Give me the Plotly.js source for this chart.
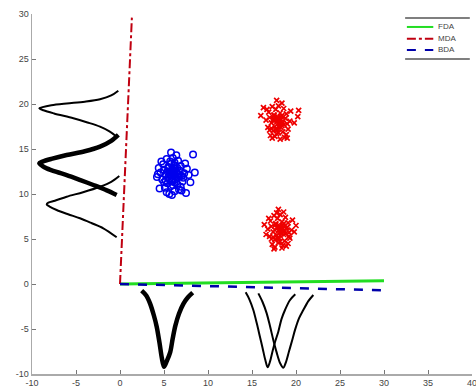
<!DOCTYPE html>
<html><head><meta charset="utf-8">
<script src="https://cdn.plot.ly/plotly-3.0.1.min.js"></script>
<style>html,body{margin:0;padding:0;background:#fff}#c{width:476px;height:390px}</style>
</head><body><div id="c"></div>
<script>
// Projection directions
const fdaX = [0, 30], fdaY = [0, 0.35];
const mdaX = [0, 1.35], mdaY = [0, 29.6];
const bdaX = [0, 30], bdaY = [0, -0.7];
const legendNames = ['FDA', 'MDA', 'BDA'];

// Blue class (circles)
const blueX = [6.0,5.5,6.4,5.2,6.8,5.9,6.2,5.0,6.6,5.7,6.1,4.8,7.0,5.4,6.3,5.8,6.9,4.6,5.3,6.5,7.3,5.1,6.0,5.6,6.7,4.9,7.1,5.9,6.2,5.5,4.4,7.6,6.4,5.2,6.0,5.8,6.9,4.7,7.4,5.3,6.1,6.6,5.0,7.8,8.3,4.2,5.6,6.3,7.0,5.4,8.0,6.8,4.5,6.2,5.7,7.2,5.9,4.3,7.5,6.5,8.5,5.9,6.3,5.6,6.1,5.8,6.4,6.0,5.7,6.2,5.5,6.6,6.0];
const blueY = [12.4,12.9,11.8,12.1,12.6,11.4,13.2,12.7,11.9,13.6,12.2,11.6,12.0,11.2,12.8,10.9,13.1,12.4,13.9,11.1,12.3,10.7,14.0,11.7,10.5,13.3,11.4,12.6,10.3,13.0,12.9,12.8,14.3,11.5,11.0,14.6,10.8,13.6,13.4,10.2,12.5,13.7,11.3,12.1,14.4,11.9,10.0,11.6,10.4,12.5,11.3,12.0,10.6,13.5,12.2,11.8,9.9,12.2,10.1,12.9,12.4,12.1,12.0,12.5,12.9,13.4,12.4,11.6,12.2,11.3,11.9,12.2,12.7];

// Red classes (crosses)
const redUpX = [18.0,17.5,18.4,17.2,18.8,17.9,18.2,17.0,18.6,17.7,18.1,16.8,19.0,17.4,18.3,17.8,18.9,16.6,17.3,18.5,19.3,17.1,18.0,17.6,18.7,16.9,19.1,17.9,18.2,17.5,16.0,20.2,18.4,17.2,18.0,17.8,18.9,16.7,19.4,17.3,18.1,18.6,17.0,19.8,20.3,16.3,17.6,18.3,19.0,17.4,17.8,18.3,17.6,18.1,17.9,18.5,18.0,17.7,18.4,17.5];
const redUpY = [18.2,18.7,17.6,17.9,18.4,17.2,19.0,18.5,17.7,19.4,18.0,17.4,17.8,17.0,18.6,16.7,18.9,18.2,19.7,16.9,18.1,16.5,19.8,17.5,16.3,19.1,17.2,18.4,16.1,18.8,18.7,18.6,20.1,17.3,16.8,20.4,16.6,19.4,19.2,16.2,18.3,19.5,17.1,17.9,19.3,19.6,16.4,17.4,16.2,18.3,18.0,18.3,18.4,17.8,18.6,17.9,17.5,17.2,18.7,18.1];
const redLoX = [18.2,17.7,18.6,17.4,19.0,18.1,18.4,17.2,18.8,17.9,18.3,17.0,19.2,17.6,18.5,18.0,19.1,16.8,17.5,18.7,19.5,17.3,18.2,17.8,18.9,17.1,19.3,18.1,18.4,17.7,16.4,20.0,18.6,17.4,18.2,18.0,19.1,16.9,19.6,17.5,18.3,18.8,17.2,19.8,16.6,17.8,18.5,19.2,17.6,18.9,18.0,18.5,17.8,18.3,18.1,18.7,18.2,17.9,18.6,17.6];
const redLoY = [6.1,6.6,5.5,5.8,6.3,5.1,6.9,6.4,5.6,7.3,5.9,5.3,5.7,4.9,6.5,4.6,6.8,6.1,7.6,4.8,6.0,4.4,7.7,5.4,4.2,7.0,5.1,6.3,4.0,6.7,6.6,6.5,8.0,5.2,4.7,8.3,4.5,7.3,7.1,3.9,6.2,7.4,5.0,5.8,5.5,7.9,4.3,5.3,4.1,6.2,5.9,6.2,6.3,5.7,6.5,5.9,5.4,5.1,6.7,6.0];

// Projected density curves
const botThickX = [2.46,3.0,3.41,3.85,4.17,4.5,4.75,5.0,5.3,5.7,6.0,6.3,6.7,7.2,7.7,8.26];
const botThickY = [-0.74,-1.3,-2.15,-3.5,-4.74,-6.6,-8.2,-9.19,-8.6,-7.6,-6.0,-4.6,-3.3,-2.2,-1.5,-0.96];
const bot1X = [14.28,14.7,15.15,15.55,15.9,16.2,16.5,16.78,17.05,17.3,17.6,17.99,18.35,18.75,19.3,19.92];
const bot1Y = [-0.93,-1.7,-2.89,-4.4,-5.85,-7.1,-8.4,-9.26,-8.6,-7.6,-6.5,-5.3,-3.9,-2.89,-1.8,-1.14];
const bot2X = [15.72,16.2,16.67,17.05,17.42,17.8,18.2,18.56,18.85,19.2,19.55,19.89,20.35,20.83,21.4,21.97];
const bot2Y = [-1.04,-2.0,-3.26,-4.7,-6.22,-7.6,-8.8,-9.3,-8.7,-7.5,-6.3,-5.1,-3.8,-2.89,-1.9,-1.22];
const leftAX = [-0.19,-1.0,-2.27,-4.0,-6.06,-7.8,-8.8,-9.17,-8.7,-7.5,-5.3,-3.7,-2.27,-1.2,-0.38];
const leftAY = [21.48,20.95,20.52,20.25,20.05,19.85,19.65,19.52,19.3,18.95,18.41,17.95,17.48,16.95,16.37];
const leftBX = [-0.19,-1.0,-2.27,-4.0,-6.06,-7.8,-8.8,-9.17,-8.8,-8.33,-7.2,-6.06,-4.5,-3.03,-1.5,-0.38];
const leftBY = [16.56,15.9,15.26,14.75,14.33,13.9,13.6,13.41,13.1,12.85,12.45,12.11,11.55,11.0,10.4,9.89];
const leftCX = [-0.08,-1.0,-2.27,-4.2,-6.06,-7.4,-8.14,-8.33,-8.0,-7.2,-5.9,-4.55,-3.2,-1.9,-0.38];
const leftCY = [12.0,11.35,10.81,10.2,9.7,9.25,9.04,8.85,8.6,8.22,7.75,7.3,6.75,6.19,5.19];

const xTicks = [-10,-5,0,5,10,15,20,25,30,35,40];
const yTicks = [-10,-5,0,5,10,15,20,25,30];

function curve(x, y, w) {
  return {x:x, y:y, mode:'lines', line:{color:'#000', width:w, shape:'spline', smoothing:0.9}, showlegend:false, hoverinfo:'skip'};
}

const lineStyles = [
  {color:'#22dd22', width:3},
  {color:'#c00010', width:2, dash:'dashdot'},
  {color:'#0000aa', width:2.5, dash:'dash'}
];

const traces = [
  curve(botThickX, botThickY, 4.5),
  curve(bot1X, bot1Y, 2),
  curve(bot2X, bot2Y, 2),
  curve(leftAX, leftAY, 2),
  curve(leftBX, leftBY, 4.5),
  curve(leftCX, leftCY, 2),
  {x:blueX, y:blueY, mode:'markers', marker:{symbol:'circle-open', size:6.5, color:'#0000ee', line:{width:1.5}}, showlegend:false},
  {x:redUpX, y:redUpY, mode:'markers', marker:{symbol:'x-thin-open', size:5, color:'#ee0000', line:{width:1.7}}, showlegend:false},
  {x:redLoX, y:redLoY, mode:'markers', marker:{symbol:'x-thin-open', size:5, color:'#ee0000', line:{width:1.7}}, showlegend:false},
  {x:fdaX, y:fdaY, mode:'lines', name:legendNames[0], line:lineStyles[0], showlegend:false},
  {x:mdaX, y:mdaY, mode:'lines', name:legendNames[1], line:lineStyles[1], showlegend:false},
  {x:bdaX, y:bdaY, mode:'lines', name:legendNames[2], line:lineStyles[2], showlegend:false}
];

const axisCommon = {
  showgrid:false, zeroline:false, showline:true, linecolor:'#aaa', linewidth:1.5,
  ticks:'inside', ticklen:4, tickcolor:'#777', tickwidth:1,
  tickfont:{family:'Liberation Sans, Arial, sans-serif', size:9, color:'#444'}, mirror:false
};

// Hand-made legend (top/bottom rules, samples, labels)
const legYs = [0.964, 0.931, 0.900];
const shapes = [
  {type:'line', xref:'paper', yref:'paper', x0:0.848, x1:0.995, y0:0.989, y1:0.989, line:{color:'#555', width:1.5}},
  {type:'line', xref:'paper', yref:'paper', x0:0.848, x1:0.995, y0:0.875, y1:0.875, line:{color:'#555', width:1.5}}
];
const annotations = [];
legendNames.forEach((n, i) => {
  shapes.push({type:'line', xref:'paper', yref:'paper', x0:0.852, x1:0.912, y0:legYs[i], y1:legYs[i],
               line:Object.assign({}, lineStyles[i], {width:2})});
  annotations.push({xref:'paper', yref:'paper', x:0.918, y:legYs[i], xanchor:'left', yanchor:'middle',
                    text:n, showarrow:false, font:{family:'Liberation Sans, Arial, sans-serif', size:8, color:'#444'}});
});

const layout = {
  width:476, height:390,
  margin:{l:32, r:4, t:14, b:16},
  paper_bgcolor:'#fff', plot_bgcolor:'#fff',
  xaxis:Object.assign({range:[-10,40], tickvals:xTicks, ticktext:xTicks.map(String), ticklabeloverflow:'allow'}, axisCommon),
  yaxis:Object.assign({range:[-10,30], tickvals:yTicks, ticktext:yTicks.map(String)}, axisCommon),
  showlegend:false,
  shapes:shapes,
  annotations:annotations
};

Plotly.newPlot('c', traces, layout, {staticPlot:true, displayModeBar:false});
</script></body></html>
